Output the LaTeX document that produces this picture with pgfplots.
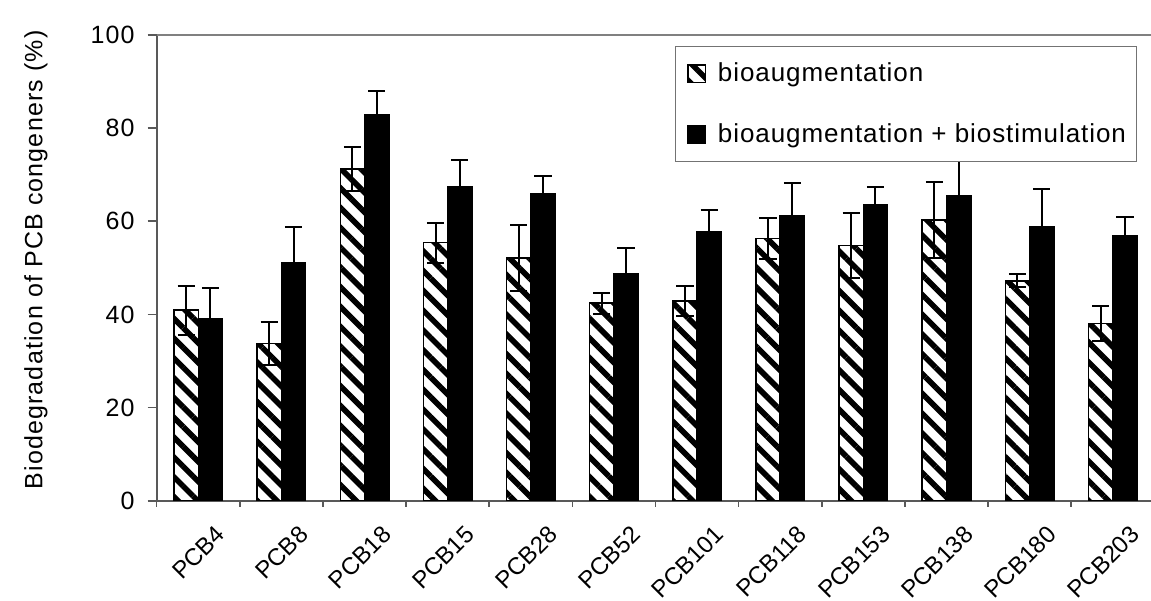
\documentclass[border=0pt]{standalone}
\usepackage{fontspec}
\setmainfont{Liberation Sans}
\newfontfamily\lsA{Liberation Sans}[LetterSpace=4.7]
\newfontfamily\lsB{Liberation Sans}[LetterSpace=3.6]
\usepackage{pgfplots}
\usepackage{pgfplotstable}
\pgfplotsset{compat=1.18}
\usetikzlibrary{patterns.meta}

\pgfplotstableread{
x  ba   baerr bb   bberr
0  40.9 5.3   39.0 6.7
1  33.8 4.6   51.1 7.6
2  71.2 4.8   82.8 5.2
3  55.4 4.3   67.4 5.8
4  52.1 7.1   66.0 3.8
5  42.4 2.3   48.7 5.6
6  42.9 3.3   57.8 4.6
7  56.3 4.3   61.1 7.2
8  54.8 6.9   63.6 3.7
9  60.3 8.1   65.5 8.0
10 47.2 1.4   58.8 8.1
11 38.1 3.8   56.8 4.2
}\data

\begin{document}
\begin{tikzpicture}
\useasboundingbox (-78.35pt,-49.65pt) rectangle (497.15pt,250.35pt);
\begin{axis}[
  scale only axis,
  width=497.15pt, height=232.85pt,
  xmin=-0.5, xmax=11.46,
  ymin=0, ymax=100,
  ytick={0,20,...,100},
  xtick={0,...,11},
  xticklabels={PCB4,PCB8,PCB18,PCB15,PCB28,PCB52,PCB101,PCB118,PCB153,PCB138,PCB180,PCB203},
  minor xtick={-0.5,0.5,...,10.5},
  axis lines=left,
  axis line style={-, draw=black!65, line width=1pt},
  tick align=outside,
  major tick length=4.5pt,
  minor tick length=3pt,
  major x tick style={draw=none},
  minor x tick style={draw=black!65, line width=0.8pt},
  major y tick style={draw=black!65, line width=0.8pt},
  /pgf/number format/assume math mode=true,
  tick label style={black},
  yticklabel style={font=\fontsize{12.5}{15}\lsA, xshift=-3pt},
  xticklabel style={font=\fontsize{12}{14}\selectfont, rotate=45, anchor=north east, inner sep=0pt, xshift=0.7pt, yshift=-10.8pt},
  ylabel={Biodegradation of PCB congeners (\%)},
  ylabel style={font=\fontsize{12.5}{15}\lsA, at={(axis description cs:-0.1215,0.517)}, anchor=center},
  legend style={at={(axis description cs:0.9862,0.977)}, anchor=north east,
    draw=black!55, fill=white, font=\fontsize{13}{16}\lsB,
    inner xsep=3pt, inner ysep=6pt, row sep=14.5pt, column sep=3.5pt, line width=0.6pt,
    nodes={inner sep=2.35pt}},
  legend cell align=left,
  clip=false,
]
\draw[black!50, line width=1pt] (rel axis cs:0,1) -- (rel axis cs:1,1);
\addplot[ybar, bar width=0.292, bar shift=0, draw=black, line width=0.75pt,
  pattern={Lines[angle=-45,distance=7pt,line width=2.8pt]}, pattern color=black,
  legend image code/.code={\path (0pt,0pt); \draw[black, line width=0.75pt, pattern={Lines[angle=-45,distance=7pt,line width=2.8pt]}] (3pt,-4.4pt) rectangle (11.8pt,4.4pt);},
  error bars/.cd, y dir=both, y explicit, error mark=-,
  error bar style={black, line width=1pt},
  error mark options={black, line width=1pt, mark size=4.3pt, rotate=90}]
  table[x expr=\thisrow{x}-0.146, y=ba, y error=baerr]{\data};
\addlegendentry{bioaugmentation}
\addplot[ybar, bar width=0.292, bar shift=0, draw=black, fill=black, line width=0.75pt,
  legend image code/.code={\path (0pt,0pt); \draw[black, fill=black] (3pt,-4.4pt) rectangle (11.8pt,4.4pt);},
  error bars/.cd, y dir=both, y explicit, error mark=-,
  error bar style={black, line width=1pt},
  error mark options={black, line width=1pt, mark size=4.3pt, rotate=90}]
  table[x expr=\thisrow{x}+0.146, y=bb, y error=bberr]{\data};
\addlegendentry{bioaugmentation + biostimulation}
\end{axis}
\end{tikzpicture}
\end{document}
